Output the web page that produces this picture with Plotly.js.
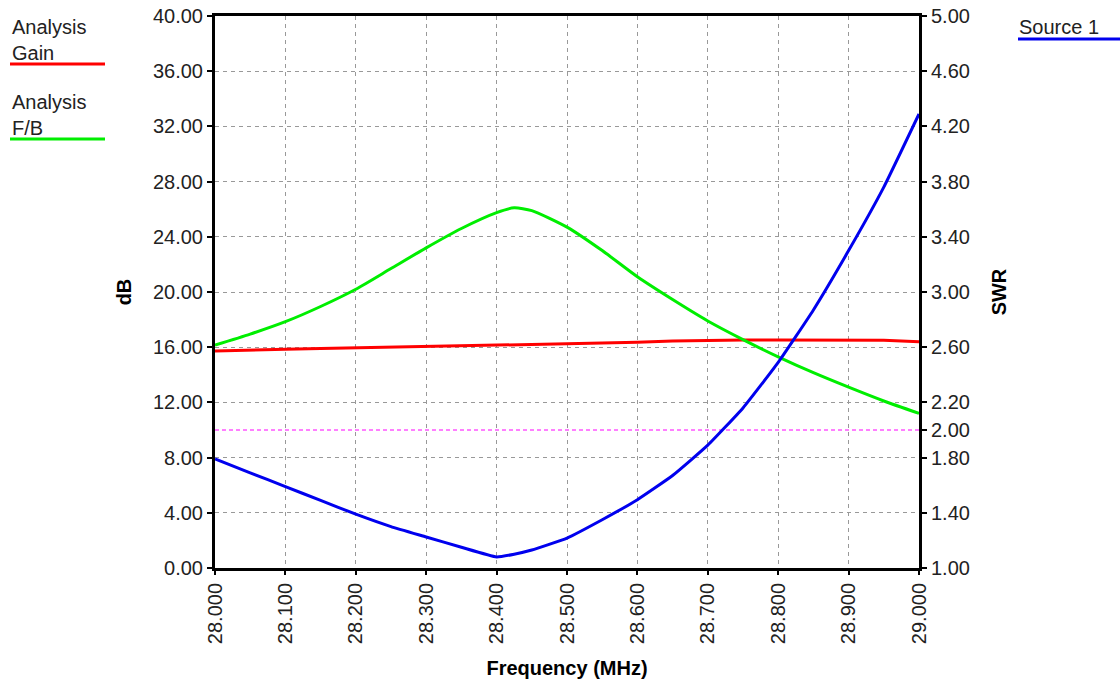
<!DOCTYPE html>
<html>
<head>
<meta charset="utf-8">
<script src="https://cdn.plot.ly/plotly-3.0.1.min.js"></script>
<style>html,body{margin:0;padding:0;background:#fff;}#chart{width:1120px;height:684px;}</style>
</head>
<body>
<div id="chart"></div>
<script>
// Frequency points (MHz)
const freq = [28.0, 28.05, 28.1, 28.15, 28.2, 28.25, 28.3, 28.35, 28.4, 28.425, 28.45, 28.5, 28.55, 28.6, 28.65, 28.7, 28.75, 28.8, 28.85, 28.9, 28.95, 29.0];
// Analysis Gain (dB)
const gain = [15.72, 15.8, 15.85, 15.9, 15.95, 16.0, 16.05, 16.08, 16.15, 16.17, 16.2, 16.28, 16.32, 16.35, 16.45, 16.5, 16.52, 16.52, 16.52, 16.52, 16.5, 16.4];
// Analysis F/B (dB)
const fb = [16.15, 16.95, 17.85, 18.95, 20.2, 21.7, 23.2, 24.6, 25.75, 26.1, 25.9, 24.7, 23.0, 21.1, 19.45, 17.9, 16.55, 15.3, 14.15, 13.1, 12.1, 11.2];
// Source 1 SWR
const swr = [1.79, 1.69, 1.59, 1.49, 1.39, 1.30, 1.225, 1.15, 1.08, 1.10, 1.13, 1.217, 1.35, 1.495, 1.67, 1.89, 2.16, 2.49, 2.87, 3.30, 3.76, 4.29];
// SWR limit line
const limitX = [28.0, 29.0];
const limitY = [2.0, 2.0];

const xTicks = [28.0, 28.1, 28.2, 28.3, 28.4, 28.5, 28.6, 28.7, 28.8, 28.9, 29.0];
const xTickText = ["28.000","28.100","28.200","28.300","28.400","28.500","28.600","28.700","28.800","28.900","29.000"];
const yTicks = [0, 4, 8, 12, 16, 20, 24, 28, 32, 36, 40];
const yTickText = ["0.00","4.00","8.00","12.00","16.00","20.00","24.00","28.00","32.00","36.00","40.00"];
const y2Ticks = [1.0, 1.4, 1.8, 2.0, 2.2, 2.6, 3.0, 3.4, 3.8, 4.2, 4.6, 5.0];
const y2TickText = ["1.00","1.40","1.80","2.00","2.20","2.60","3.00","3.40","3.80","4.20","4.60","5.00"];

const FONT = "Liberation Sans, Arial, sans-serif";

const traces = [
  {x: limitX, y: limitY, yaxis: 'y2', mode: 'lines', line: {color: '#ff00ff', width: 1, dash: '4px,3px'}, hoverinfo: 'skip'},
  {x: freq, y: gain, mode: 'lines', name: 'Analysis Gain', line: {color: '#ff0000', width: 3}},
  {x: freq, y: fb, mode: 'lines', name: 'Analysis F/B', line: {color: '#00ee00', width: 3, shape: 'spline', smoothing: 0.6}},
  {x: freq, y: swr, yaxis: 'y2', mode: 'lines', name: 'Source 1', line: {color: '#0000ee', width: 3, shape: 'spline', smoothing: 0.4}}
];

function px(x) { return (x - 215) / 704; }
function py(y) { return (568 - y) / 552; }

const layout = {
  width: 1120, height: 684,
  margin: {l: 215, r: 201, t: 16, b: 116, pad: 0},
  paper_bgcolor: '#fff', plot_bgcolor: '#fff',
  showlegend: false,
  font: {family: FONT, size: 20, color: '#222'},
  xaxis: {
    range: [28.0, 29.0], tickvals: xTicks, ticktext: xTickText, tickangle: -90,
    showline: true, linecolor: '#000', linewidth: 3, mirror: true,
    ticks: 'outside', ticklen: 4, tickwidth: 2, tickcolor: '#000',
    showgrid: true, gridcolor: '#999', gridwidth: 1, griddash: '4px,4px',
    zeroline: false,
    tickfont: {family: FONT, size: 20, color: '#222'},
    title: {text: 'Frequency (MHz)', font: {family: FONT, size: 20, color: '#000', weight: 'bold'}, standoff: 18}
  },
  yaxis: {
    range: [0, 40], tickvals: yTicks, ticktext: yTickText,
    showline: true, linecolor: '#000', linewidth: 3,
    ticks: 'outside', ticklen: 5, tickwidth: 2, tickcolor: '#000',
    showgrid: true, gridcolor: '#999', gridwidth: 1, griddash: '4px,4px',
    zeroline: false,
    tickfont: {family: FONT, size: 20, color: '#222'},
    title: {text: 'dB', font: {family: FONT, size: 20, color: '#000', weight: 'bold'}, standoff: 16}
  },
  yaxis2: {
    range: [1, 5], tickvals: y2Ticks, ticktext: y2TickText,
    overlaying: 'y', side: 'right',
    showline: true, linecolor: '#000', linewidth: 3,
    ticks: 'outside', ticklen: 5, tickwidth: 2, tickcolor: '#000',
    showgrid: false, zeroline: false,
    tickfont: {family: FONT, size: 20, color: '#222'},
    title: {text: 'SWR', font: {family: FONT, size: 20, color: '#000', weight: 'bold'}, standoff: 24}
  },
  annotations: [
    {xref: 'paper', yref: 'paper', x: px(10), y: py(14), xanchor: 'left', yanchor: 'top', align: 'left', showarrow: false,
     text: 'Analysis<br>Gain', font: {family: FONT, size: 20, color: '#222'}},
    {xref: 'paper', yref: 'paper', x: px(10), y: py(89), xanchor: 'left', yanchor: 'top', align: 'left', showarrow: false,
     text: 'Analysis<br>F/B', font: {family: FONT, size: 20, color: '#222'}},
    {xref: 'paper', yref: 'paper', x: px(1017), y: py(14), xanchor: 'left', yanchor: 'top', align: 'left', showarrow: false,
     text: 'Source 1', font: {family: FONT, size: 20, color: '#222'}}
  ],
  shapes: [
    {type: 'line', xref: 'paper', yref: 'paper', x0: px(10), x1: px(105), y0: py(64), y1: py(64), line: {color: '#ff0000', width: 3}},
    {type: 'line', xref: 'paper', yref: 'paper', x0: px(10), x1: px(105), y0: py(139), y1: py(139), line: {color: '#00ee00', width: 3}},
    {type: 'line', xref: 'paper', yref: 'paper', x0: px(1018), x1: px(1120), y0: py(39), y1: py(39), line: {color: '#0000ee', width: 3}}
  ]
};

Plotly.newPlot('chart', traces, layout, {staticPlot: true, displayModeBar: false});
</script>
</body>
</html>
